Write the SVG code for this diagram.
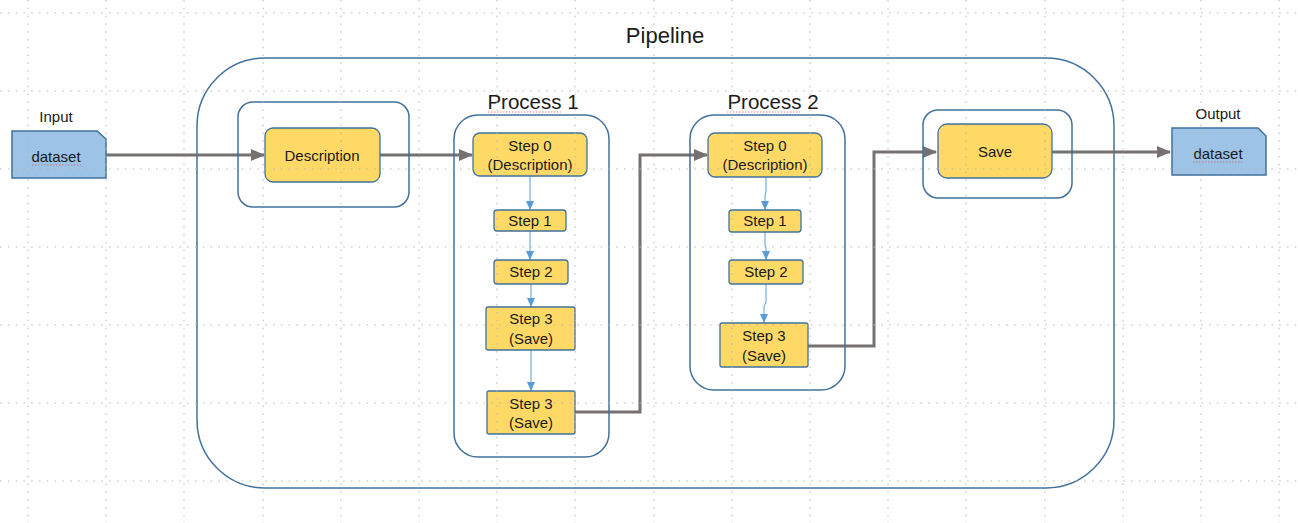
<svg xmlns="http://www.w3.org/2000/svg" width="1298" height="523" viewBox="0 0 1298 523">
<defs>
<style>
text{font-family:"Liberation Sans",Arial,sans-serif;fill:#1a1a1a;text-anchor:middle}
.grp{fill:none;stroke:#41719c;stroke-width:1.5}
.box{fill:#ffd966;stroke:#41719c;stroke-width:1.3}
.data{fill:#9dc3e6;stroke:#41719c;stroke-width:1.5}
.conn{fill:none;stroke:#767171;stroke-width:3}
.thin{fill:none;stroke:#5b9bd5;stroke-width:1}
.grid{stroke:#b5b5b5;stroke-width:1;stroke-dasharray:1.5 6.3}
.sq{fill:none;stroke:#e06070;stroke-width:0.8;stroke-dasharray:1.5 1.5}
.t15{font-size:15px}
</style>
<marker id="ag" markerUnits="userSpaceOnUse" markerWidth="14" markerHeight="12" refX="13" refY="6" orient="auto"><path d="M0,0 L14,6 L0,12 Z" fill="#767171"/></marker>
<marker id="ab" markerUnits="userSpaceOnUse" markerWidth="9" markerHeight="8" refX="9" refY="4" orient="auto"><path d="M0,0 L9,4 L0,8 Z" fill="#5b9bd5"/></marker>
</defs>
<rect width="1298" height="523" fill="#ffffff"/>

<text x="665" y="43" style="font-size:22px">Pipeline</text>
<g id="pipeline"><rect class="grp" x="197" y="58" width="917" height="430" rx="68"/></g>

<g id="connectors">
<path class="conn" d="M106,155 L184,155 L264,155" marker-end="url(#ag)"/>
<path class="conn" d="M380,155 L472,155" marker-end="url(#ag)"/>
<path class="conn" d="M575,412 L640,412 L640,155 L707,155" marker-end="url(#ag)"/>
<path class="conn" d="M808,346 L874,346 L874,152 L936,152" marker-end="url(#ag)"/>
<path class="conn" d="M1052,152 L1170,152" marker-end="url(#ag)"/>
<path class="thin" d="M530,176 L530,210" marker-end="url(#ab)"/>
<path class="thin" d="M530,231 L530,260" marker-end="url(#ab)"/>
<path class="thin" d="M531,284 L531,307" marker-end="url(#ab)"/>
<path class="thin" d="M531,350 L531,391" marker-end="url(#ab)"/>
<path class="thin" d="M766,177 L766,192 L765,195 L765,210" marker-end="url(#ab)"/>
<path class="thin" d="M765,232 L765,245 L766,248 L766,260" marker-end="url(#ab)"/>
<path class="thin" d="M766,284 L766,303 L764,306 L764,323" marker-end="url(#ab)"/>
</g>

<g id="input">
<text x="56" y="122" class="t15">Input</text>
<path class="data" d="M12,131 H97 L106,139 V178 H12 Z"/>
<text x="56" y="162" class="t15">dataset</text>
<path class="sq" d="M32,165 H81"/>
</g>

<g id="description-stage">
<rect class="grp" x="238" y="102" width="171" height="105" rx="15"/>
<rect class="box" x="265" y="128" width="115" height="54" rx="8"/>
<text x="322" y="161" class="t15">Description</text>
</g>

<g id="process1">
<text x="533" y="109" style="font-size:20.5px">Process 1</text>
<path class="sq" d="M488,112 H561"/>
<rect class="grp" x="454" y="115" width="155" height="342" rx="24"/>
</g>
<g id="p1-step0">
<rect class="box" x="473" y="133" width="114" height="43" rx="7"/>
<text x="530" y="151" class="t15">Step 0</text>
<text x="530" y="170" class="t15">(Description)</text>
</g>
<g id="p1-step1">
<rect class="box" x="494" y="210" width="72" height="21" rx="3"/>
<text x="530" y="226" class="t15">Step 1</text>
</g>
<g id="p1-step2">
<rect class="box" x="494" y="260" width="74" height="24" rx="3"/>
<text x="531" y="277" class="t15">Step 2</text>
</g>
<g id="p1-step3a">
<rect class="box" x="486" y="307" width="89" height="43" rx="2"/>
<text x="531" y="324" class="t15">Step 3</text>
<text x="531" y="344" class="t15">(Save)</text>
</g>
<g id="p1-step3b">
<rect class="box" x="487" y="391" width="88" height="43" rx="2"/>
<text x="531" y="409" class="t15">Step 3</text>
<text x="531" y="428" class="t15">(Save)</text>
</g>

<g id="process2">
<text x="773" y="109" style="font-size:20.5px">Process 2</text>
<path class="sq" d="M727,112 H800"/>
<rect class="grp" x="690" y="115" width="155" height="275" rx="24"/>
</g>
<g id="p2-step0">
<rect class="box" x="708" y="133" width="114" height="44" rx="7"/>
<text x="765" y="151" class="t15">Step 0</text>
<text x="765" y="170" class="t15">(Description)</text>
</g>
<g id="p2-step1">
<rect class="box" x="729" y="210" width="72" height="22" rx="3"/>
<text x="765" y="226" class="t15">Step 1</text>
</g>
<g id="p2-step2">
<rect class="box" x="729" y="260" width="74" height="24" rx="3"/>
<text x="766" y="277" class="t15">Step 2</text>
</g>
<g id="p2-step3">
<rect class="box" x="720" y="323" width="88" height="44" rx="2"/>
<text x="764" y="341" class="t15">Step 3</text>
<text x="764" y="361" class="t15">(Save)</text>
</g>

<g id="save-stage">
<rect class="grp" x="923" y="110" width="149" height="88" rx="15"/>
<rect class="box" x="938" y="124" width="114" height="54" rx="9"/>
<text x="995" y="157" class="t15">Save</text>
</g>

<g id="output">
<text x="1218" y="119" class="t15">Output</text>
<path class="data" d="M1172,128 H1258 L1266,136 V175 H1172 Z"/>
<text x="1218" y="159" class="t15">dataset</text>
<path class="sq" d="M1193,162 H1242"/>
</g>

<g id="grid">
<path class="grid" d="M0,13 H1298 M0,91 H1298 M0,169 H1298 M0,247 H1298 M0,325 H1298 M0,403 H1298 M0,481 H1298"/>
<path class="grid" d="M28,0 V523 M106,0 V523 M184,0 V523 M263,0 V523 M341,0 V523 M419,0 V523 M497,0 V523 M575,0 V523 M654,0 V523 M732,0 V523 M810,0 V523 M888,0 V523 M966,0 V523 M1045,0 V523 M1123,0 V523 M1201,0 V523 M1279,0 V523"/>
</g>
</svg>
